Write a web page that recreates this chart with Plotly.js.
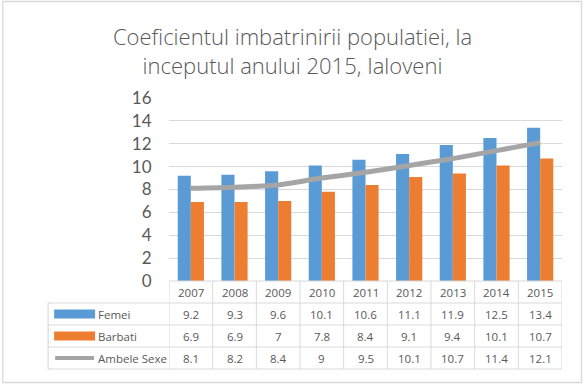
<!DOCTYPE html>
<html><head><meta charset="utf-8">
<script src="https://cdn.plot.ly/plotly-3.0.1.min.js"></script>
<style>html,body{margin:0;padding:0;background:#fff}#chart{width:585px;height:385px}</style>
</head><body><div id="chart"></div>
<script>
const years = ['2007','2008','2009','2010','2011','2012','2013','2014','2015'];
const femei = [9.2, 9.3, 9.6, 10.1, 10.6, 11.1, 11.9, 12.5, 13.4];
const barbati = [6.9, 6.9, 7, 7.8, 8.4, 9.1, 9.4, 10.1, 10.7];
const ambele = [8.1, 8.2, 8.4, 9, 9.5, 10.1, 10.7, 11.4, 12.1];
const seriesNames = ['Femei', 'Barbati', 'Ambele Sexe'];

const W = 585, H = 385;
const L = 169, R = 562.5, T = 98, B = 281;
const px = x => (x - L) / (R - L);
const py = y => (B - y) / (B - T);
const gridC = '#d9d9d9', textC = '#595959';
const colors = ['#5b9bd5', '#ed7d31', '#a5a5a5'];

const traces = [
  {type:'bar', name:seriesNames[0], x:years, y:femei, marker:{color:colors[0]}, hoverinfo:'skip'},
  {type:'bar', name:seriesNames[1], x:years, y:barbati, marker:{color:colors[1]}, hoverinfo:'skip'},
  {type:'scatter', mode:'lines', name:seriesNames[2], x:years, y:ambele,
   line:{color:colors[2], width:5, shape:'spline', smoothing:0.6}, hoverinfo:'skip'}
];

const rowLines = [303, 325, 347, 369];
const rowCenters = [292, 314, 336, 358];
const shapes = [];
shapes.push({type:'line', xref:'paper', yref:'paper', x0:0, x1:1, y0:py(281), y1:py(281), line:{color:gridC, width:1}});
rowLines.forEach(y => shapes.push({type:'line', xref:'paper', yref:'paper', x0:px(48), x1:1, y0:py(y), y1:py(y), line:{color:gridC, width:1}}));
for (let k = 0; k <= years.length; k++) {
  shapes.push({type:'line', xref:'x', yref:'paper', x0:k - 0.5, x1:k - 0.5, y0:py(281), y1:py(369), line:{color:gridC, width:1}});
}
shapes.push({type:'line', xref:'paper', yref:'paper', x0:px(48), x1:px(48), y0:py(303), y1:py(369), line:{color:gridC, width:1}});
shapes.push({type:'rect', xref:'paper', yref:'paper', x0:px(54), x1:px(95), y0:py(309.5), y1:py(318.5), fillcolor:colors[0], line:{width:0}});
shapes.push({type:'rect', xref:'paper', yref:'paper', x0:px(54), x1:px(95), y0:py(331.5), y1:py(340.5), fillcolor:colors[1], line:{width:0}});
shapes.push({type:'line', xref:'paper', yref:'paper', x0:px(55), x1:px(94), y0:py(358), y1:py(358), line:{color:colors[2], width:4}});
shapes.push({type:'rect', xref:'paper', yref:'paper', x0:px(2.5), x1:px(582), y0:py(1.5), y1:py(382.5), line:{color:gridC, width:1.3}, fillcolor:'rgba(0,0,0,0)', layer:'below'});

const annotations = [];
const tf = {family:'"Open Sans", Lato, sans-serif', size:11.5, color:textC};
years.forEach((yr, i) => {
  annotations.push({xref:'x', yref:'paper', x:i, y:py(rowCenters[0]), text:yr, showarrow:false, font:tf, xanchor:'center', yanchor:'middle'});
});
const rows = [femei, barbati, ambele];
rows.forEach((arr, r) => {
  arr.forEach((v, i) => {
    annotations.push({xref:'x', yref:'paper', x:i, y:py(rowCenters[r+1]), text:String(v), showarrow:false, font:tf, xanchor:'center', yanchor:'middle'});
  });
  annotations.push({xref:'paper', yref:'paper', x:px(96), y:py(rowCenters[r+1]), text:seriesNames[r], showarrow:false, font:tf, xanchor:'left', yanchor:'middle'});
});

const layout = {
  width:W, height:H,
  margin:{l:L, r:W - R, t:T, b:H - B, pad:0},
  paper_bgcolor:'#fff', plot_bgcolor:'#fff',
  showlegend:false,
  barmode:'group', bargap:0.4, bargroupgap:0,
  title:{text:'Coeficientul imbatrinirii populatiei, la<br>inceputul anului 2015, Ialoveni',
    x:0.5, xref:'container', xanchor:'center', y:1 - 45/H, yref:'container', yanchor:'middle',
    font:{family:'"Open Sans", Lato, sans-serif', size:22, color:textC, weight:300}},
  xaxis:{type:'category', range:[-0.5, years.length - 0.5], showticklabels:false, showgrid:false, zeroline:false, showline:false, ticks:''},
  yaxis:{range:[0, 16], dtick:2, tick0:0, showgrid:true, gridcolor:gridC, gridwidth:1, zeroline:false, showline:false,
    ticks:'outside', ticklen:13, tickcolor:'rgba(0,0,0,0)',
    tickfont:{family:'Lato, "Open Sans", sans-serif', size:17, color:textC}},
  shapes:shapes, annotations:annotations
};
Plotly.newPlot('chart', traces, layout, {staticPlot:true, displayModeBar:false});
</script></body></html>
